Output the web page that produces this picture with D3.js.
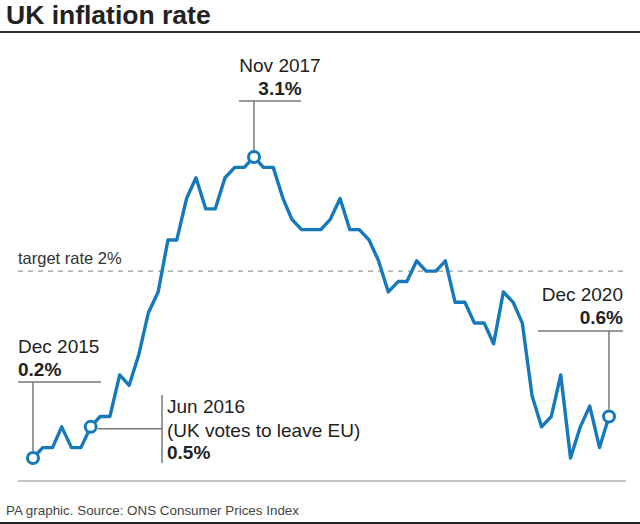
<!DOCTYPE html>
<html>
<head>
<meta charset="utf-8">
<script src="https://cdn.jsdelivr.net/npm/d3@7"></script>
<style>
  body { margin: 0; background: #fff; }
  svg { display: block; font-family: "Liberation Sans", Arial, sans-serif; }
</style>
</head>
<body>
<svg id="chart"></svg>
<script>
// monthly CPI 12-month rate, Dec 2015 .. Dec 2020
const startMonth = "2015-12";
const values = [
  0.2,
  0.3, 0.3, 0.5, 0.3, 0.3, 0.5, 0.6, 0.6, 1.0, 0.9, 1.2, 1.6,
  1.8, 2.3, 2.3, 2.7, 2.9, 2.6, 2.6, 2.9, 3.0, 3.0, 3.1, 3.0,
  3.0, 2.7, 2.5, 2.4, 2.4, 2.4, 2.5, 2.7, 2.4, 2.4, 2.3, 2.1,
  1.8, 1.9, 1.9, 2.1, 2.0, 2.0, 2.1, 1.7, 1.7, 1.5, 1.5, 1.3,
  1.8, 1.7, 1.5, 0.8, 0.5, 0.6, 1.0, 0.2, 0.5, 0.7, 0.3, 0.6
];
const targetRate = 2;
const highlights = [
  { month: "2015-12", label: ["Dec 2015"], value: "0.2%" },
  { month: "2016-06", label: ["Jun 2016", "(UK votes to leave EU)"], value: "0.5%" },
  { month: "2017-11", label: ["Nov 2017"], value: "3.1%" },
  { month: "2020-12", label: ["Dec 2020"], value: "0.6%" }
];

const width = 640, height = 524;
const blue = "#1679b9";
const fs = 19;
const parse = d3.timeParse("%Y-%m");
const start = parse(startMonth);
const data = values.map((v, i) => ({ date: d3.timeMonth.offset(start, i), value: v }));

const x = d3.scaleTime()
  .domain(d3.extent(data, d => d.date))
  .range([33, 609]);
const y = d3.scaleLinear()
  .domain([0.2, 3.1])
  .range([458, 157]);

const svg = d3.select("#chart").attr("width", width).attr("height", height);

// title
svg.append("text")
  .attr("x", 6).attr("y", 24)
  .attr("font-size", 26.5).attr("font-weight", "bold").attr("fill", "#222")
  .text("UK inflation rate");
svg.append("line")
  .attr("x1", 0).attr("x2", width).attr("y1", 32).attr("y2", 32)
  .attr("stroke", "#333").attr("stroke-width", 2);

// baseline
svg.append("line")
  .attr("x1", 18).attr("x2", 626).attr("y1", 481).attr("y2", 481)
  .attr("stroke", "#b0b0b0").attr("stroke-width", 1.5);

// target rate
svg.append("line")
  .attr("x1", 18).attr("x2", 627).attr("y1", y(targetRate)).attr("y2", y(targetRate))
  .attr("stroke", "#9a9a9a").attr("stroke-width", 1.2)
  .attr("stroke-dasharray", "5,5");
svg.append("text")
  .attr("x", 18).attr("y", y(targetRate) - 7)
  .attr("font-size", 16.5).attr("fill", "#333")
  .text("target rate " + targetRate + "%");

// annotation leaders
const grey = "#777";
const at = m => data.find(d => +d.date === +parse(m));
const r = 7;

function leader(points) {
  svg.append("polyline")
    .attr("points", points.map(p => p.join(",")).join(" "))
    .attr("fill", "none").attr("stroke", grey).attr("stroke-width", 1.5);
}

// Dec 2015
{
  const d = at(highlights[0].month);
  const px = x(d.date), py = y(d.value);
  leader([[px, py - r], [px, 382]]);
  leader([[18, 382], [101, 382]]);
  const t = svg.append("text").attr("font-size", fs).attr("fill", "#222");
  t.append("tspan").attr("x", 18).attr("y", 353).text(highlights[0].label[0]);
  t.append("tspan").attr("x", 18).attr("y", 376).attr("font-weight", "bold").text(highlights[0].value);
}
// Jun 2016
{
  const d = at(highlights[1].month);
  const px = x(d.date), py = y(d.value);
  leader([[px + r, py + 2], [162, py + 2]]);
  leader([[162, 395], [162, 463]]);
  const t = svg.append("text").attr("font-size", fs).attr("fill", "#222");
  t.append("tspan").attr("x", 167).attr("y", 413).text(highlights[1].label[0]);
  t.append("tspan").attr("x", 167).attr("y", 437).text(highlights[1].label[1]);
  t.append("tspan").attr("x", 167).attr("y", 459).attr("font-weight", "bold").text(highlights[1].value);
}
// Nov 2017
{
  const d = at(highlights[2].month);
  const px = x(d.date), py = y(d.value);
  leader([[px, py - r], [px, 101]]);
  leader([[239, 101], [301, 101]]);
  const t = svg.append("text").attr("font-size", fs).attr("fill", "#222").attr("text-anchor", "middle");
  t.append("tspan").attr("x", 280).attr("y", 72).text(highlights[2].label[0]);
  t.append("tspan").attr("x", 280).attr("y", 95).attr("font-weight", "bold").text(highlights[2].value);
}
// Dec 2020
{
  const d = at(highlights[3].month);
  const px = x(d.date), py = y(d.value);
  leader([[px, py - r], [px, 331]]);
  leader([[538, 331], [623, 331]]);
  const t = svg.append("text").attr("font-size", fs).attr("fill", "#222").attr("text-anchor", "end");
  t.append("tspan").attr("x", 623).attr("y", 301).text(highlights[3].label[0]);
  t.append("tspan").attr("x", 623).attr("y", 324).attr("font-weight", "bold").text(highlights[3].value);
}

// the line
const line = d3.line().x(d => x(d.date)).y(d => y(d.value));
svg.append("path")
  .datum(data)
  .attr("fill", "none").attr("stroke", blue).attr("stroke-width", 3.4)
  .attr("stroke-linejoin", "round").attr("stroke-linecap", "round")
  .attr("d", line);

svg.selectAll("circle.hl")
  .data(highlights.map(h => at(h.month)))
  .enter().append("circle")
  .attr("class", "hl")
  .attr("cx", d => x(d.date)).attr("cy", d => y(d.value))
  .attr("r", r - 1.5)
  .attr("fill", "#fff").attr("stroke", blue).attr("stroke-width", 3);

// footer
svg.append("text")
  .attr("x", 6).attr("y", 515)
  .attr("font-size", 13.4).attr("fill", "#444")
  .text("PA graphic. Source: ONS Consumer Prices Index");
svg.append("line")
  .attr("x1", 0).attr("x2", width).attr("y1", 523).attr("y2", 523)
  .attr("stroke", "#222").attr("stroke-width", 2);
</script>
</body>
</html>
